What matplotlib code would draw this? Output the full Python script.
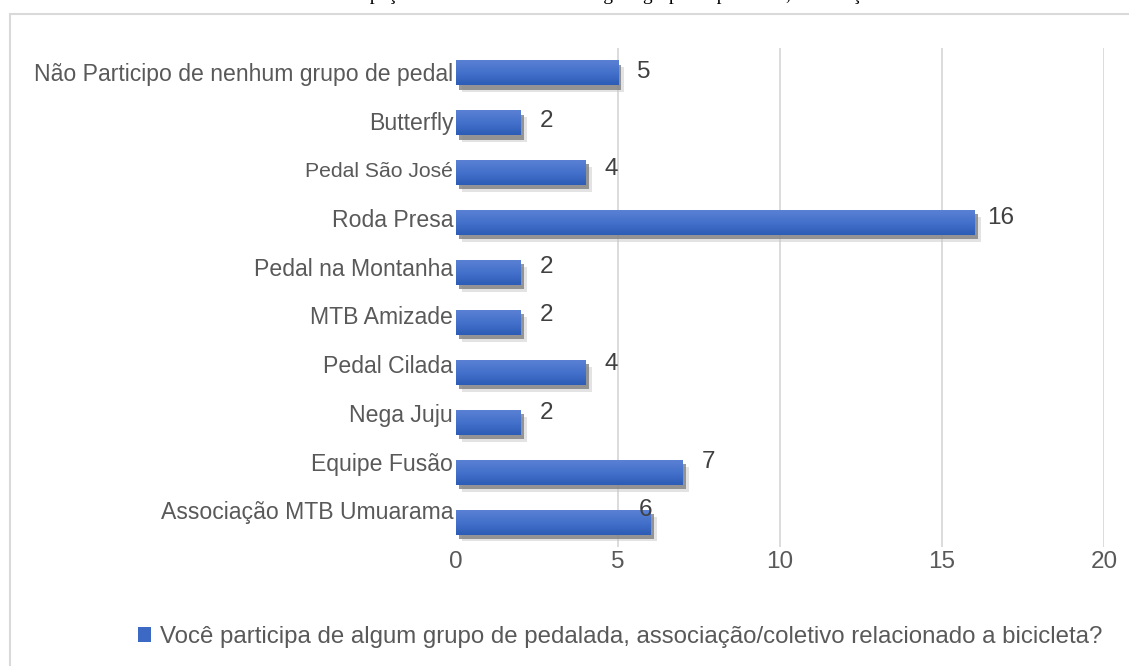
import numpy as np
import matplotlib
matplotlib.use("Agg")
import matplotlib.pyplot as plt
from matplotlib.patches import Rectangle, Patch
from matplotlib import patheffects as pe
from matplotlib.colors import LinearSegmentedColormap

plt.rcParams['font.family'] = ['Liberation Sans', 'DejaVu Sans']

# dados (de cima para baixo)
groups = ['Não Participo de nenhum grupo de pedal', 'Butterfly', 'Pedal São José',
          'Roda Presa', 'Pedal na Montanha', 'MTB Amizade', 'Pedal Cilada',
          'Nega Juju', 'Equipe Fusão', 'Associação MTB Umuarama']
counts = [5, 2, 4, 16, 2, 2, 4, 2, 7, 6]
x_ticks = [0, 5, 10, 15, 20]
legend_label = ('Você participa de algum grupo de pedalada, '
                'associação/coletivo relacionado a bicicleta?')
title = ('Gráfico 8 – Participação dos entrevistados em algum grupo de pedalada, '
         'associação ou coletivo')

TEXT = '#595959'
GRID = '#d9d9d9'

n = len(groups)
fig = plt.figure(figsize=(11.29, 6.66), dpi=100)
ax = fig.add_axes([0.4039, 0.1787, 0.574, 0.7492])

# barras com sombra
bars = ax.barh(range(n), counts, height=0.5, color='#3b69c4', zorder=3,
               path_effects=[pe.SimplePatchShadow(offset=(4.5, -5), shadow_rgbFace='#c8c8c8', alpha=0.5),
                             pe.SimplePatchShadow(offset=(2.5, -3), shadow_rgbFace='#7f7f7f', alpha=0.8),
                             pe.Normal()])

# degradê vertical em cada barra
cmap = LinearSegmentedColormap.from_list('bar', ['#2c5cb5', '#4471cb', '#5a80d3'])
grad = np.linspace(0, 1, 64).reshape(-1, 1)
for b in bars:
    x0, y0, w, h = b.get_x(), b.get_y(), b.get_width(), b.get_height()
    ax.imshow(grad, cmap=cmap, aspect='auto', origin='lower', zorder=4,
              extent=(x0, x0 + w, y0 + h, y0), interpolation='bilinear')

ax.set_xlim(0, 20)
ax.set_ylim(n - 0.5, -0.5)

# os rótulos no original ficam levemente comprimidos para cima
label_pos = np.arange(n) * 0.976 - 0.02
ax.set_yticks(label_pos, labels=groups)
for t, g in zip(ax.get_yticklabels(), groups):
    t.set_fontsize(15.2 if g == 'Pedal São José' else 16.6)
    t.set_color(TEXT)

for i, v in enumerate(counts):
    dx = 0.8 if i < n - 1 else -0.15
    ax.text(v + dx, label_pos[i], str(v), ha='center', va='center',
            fontsize=17.5, color='#404040', zorder=5)

ax.set_xticks(x_ticks)
ax.tick_params(axis='x', length=0, pad=3, labelsize=17.5, labelcolor=TEXT)
ax.tick_params(axis='y', length=0, pad=2)
for s in ax.spines.values():
    s.set_visible(False)
ax.grid(axis='x', color=GRID, linewidth=1.3, zorder=0)
ax.set_axisbelow(True)
ax.xaxis.get_gridlines()[0].set_visible(False)

# legenda
fig.legend(handles=[Patch(facecolor='#3b69c4', label=legend_label)],
           loc='center left', bbox_to_anchor=(138 / 1129, 1 - 637 / 666),
           frameon=False, fontsize=17.3, labelcolor=TEXT,
           handlelength=0.55, handleheight=0.55, handletextpad=0.35,
           borderpad=0, borderaxespad=0)

# moldura do gráfico (cortada à direita e embaixo)
fig.patches.append(Rectangle((10 / 1129, -0.1), 1.2, 1.1 - 14 / 666, transform=fig.transFigure,
                             fill=False, edgecolor=GRID, linewidth=1.5))

# legenda da figura, cortada no topo da imagem
fig.text(0.53, 1.0, title, ha='center', va='baseline', fontsize=14,
         family='Liberation Serif', color='black')

fig.savefig('out.png', dpi=100, facecolor='white')
